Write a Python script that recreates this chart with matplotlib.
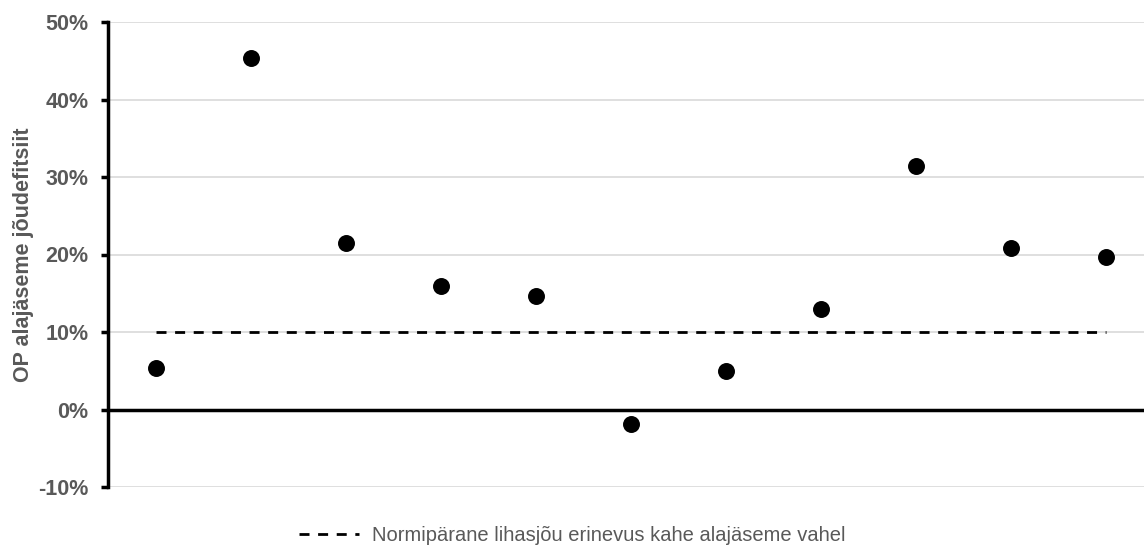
import matplotlib.pyplot as plt
import numpy as np

plt.rcParams['font.family'] = ['Liberation Sans', 'DejaVu Sans']

# values (percent)
positions = np.arange(1, 12)
deficit = [5.4, 45.4, 21.5, 15.9, 14.7, -1.9, 5.0, 13.0, 31.4, 20.8, 19.7]
norm_level = [10] * len(positions)
y_ticks = [-10, 0, 10, 20, 30, 40, 50]

fig = plt.figure(figsize=(11.44, 5.47), dpi=100)
ax = fig.add_axes([108 / 1144, 60 / 547, 1 - 108 / 1144, 465 / 547])

gray = '#595959'
for t in y_ticks:
    if t != 0:
        ax.axhline(t, color='#d9d9d9', lw=1.2, zorder=0)
ax.axhline(0, color='black', lw=2.5, zorder=1)

ax.plot(positions, norm_level, ls=(0, (3.6, 3.1)), color='black', lw=2,
        label='Normipärane lihasjõu erinevus kahe alajäseme vahel', zorder=2)
ax.scatter(positions, deficit, s=125, color='black', zorder=3)

ax.set_xlim(0.5, 11.4)
ax.set_ylim(-10, 50)
ax.set_yticks(y_ticks)
ax.set_yticklabels([f'{t}%' for t in y_ticks], fontweight='bold', color=gray, fontsize=15.5)
ax.set_xticks([])
ax.tick_params(axis='y', length=5, width=2.5, color='black', pad=9)

for s in ['top', 'right', 'bottom']:
    ax.spines[s].set_visible(False)
ax.spines['left'].set_linewidth(2.5)

ax.set_ylabel('OP alajäseme jõudefitsiit', fontweight='bold', color=gray, fontsize=15.5, labelpad=3)

leg = fig.legend(loc='lower center', bbox_to_anchor=(0.5, -0.03), frameon=False,
                 fontsize=14.5, handlelength=3.0, handletextpad=0.6, labelcolor=gray)

fig.savefig('out.png', dpi=100)
